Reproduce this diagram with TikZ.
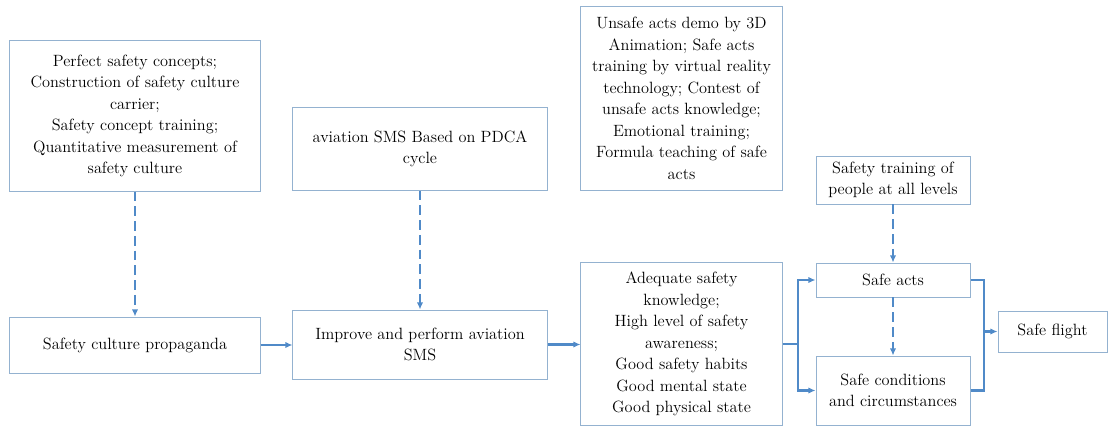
\documentclass[tikz,border=0pt]{standalone}
\usepackage{xcolor}
\usetikzlibrary{arrows.meta,positioning,calc}
\definecolor{edgeblue}{RGB}{80,138,200}
\definecolor{boxblue}{RGB}{148,178,208}

\begin{document}
\begin{tikzpicture}[x=0.025cm,y=-0.025cm,box/.style={draw=boxblue,line width=0.7pt,align=center,inner sep=2pt,font=\fontsize{11.6}{15.3}\selectfont},flow/.style={draw=edgeblue,line width=1.5pt,-{Latex[length=5pt,width=4.5pt]}},hint/.style={draw=edgeblue,line width=1.5pt,dash pattern=on 7pt off 3.5pt,-{Latex[length=5pt,width=4.5pt]}},link/.style={draw=edgeblue,line width=1.5pt}]
\useasboundingbox (0,0) rectangle (1108,426);
\node[box,minimum width=6.25cm,minimum height=3.75cm] (concepts) at (135,116) {Perfect safety concepts;\\Construction of safety culture\\carrier;\\Safety concept training;\\Quantitative measurement of\\safety culture};
\node[box,minimum width=6.35cm,minimum height=2.05cm] (pdca) at (420,149) {aviation SMS Based on PDCA\\cycle};
\node[box,minimum width=5.025cm,minimum height=4.575cm] (demo) at (681.5,98.5) {Unsafe acts demo by 3D\\Animation; Safe acts\\training by virtual reality\\technology; Contest of\\unsafe acts knowledge;\\Emotional training;\\Formula teaching of safe\\acts};
\node[box,minimum width=3.85cm,minimum height=1.2cm] (training) at (893,180) {Safety training of\\people at all levels};
\node[box,minimum width=6.25cm,minimum height=1.4cm] (propaganda) at (135,345) {Safety culture propaganda};
\node[box,minimum width=6.35cm,minimum height=1.725cm] (improve) at (420,344.5) {Improve and perform aviation\\SMS};
\node[box,minimum width=5.025cm,minimum height=4.05cm] (adequate) at (681.5,344) {Adequate safety\\knowledge;\\High level of safety\\awareness;\\Good safety habits\\Good mental state\\Good physical state};
\node[box,minimum width=3.85cm,minimum height=0.85cm] (safeacts) at (893,280) {Safe acts};
\node[box,minimum width=3.85cm,minimum height=1.725cm] (safecond) at (893,390.5) {Safe conditions\\and circumstances};
\node[box,minimum width=2.725cm,minimum height=1.025cm] (flight) at (1052.5,331.5) {Safe flight};
\coordinate (fork) at (798,344);
\coordinate (join) at (984,331.5);
\draw[hint] (concepts)--(propaganda);
\draw[hint] (pdca)--(improve);
\draw[hint] (training)--(safeacts);
\draw[hint] (safeacts)--(safecond);
\draw[flow] (propaganda.east)--(propaganda.east-|improve.west);
\draw[flow] (improve.east)--(improve.east-|adequate.west);
\draw[link] (adequate.east)--(fork);
\draw[flow] (fork)|-(safeacts.west);
\draw[flow] (fork)|-(safecond.west);
\draw[link] (safeacts.east)-|(join);
\draw[link] (safecond.east)-|(join);
\draw[flow] (join)--(flight.west);
\end{tikzpicture}
\end{document}
